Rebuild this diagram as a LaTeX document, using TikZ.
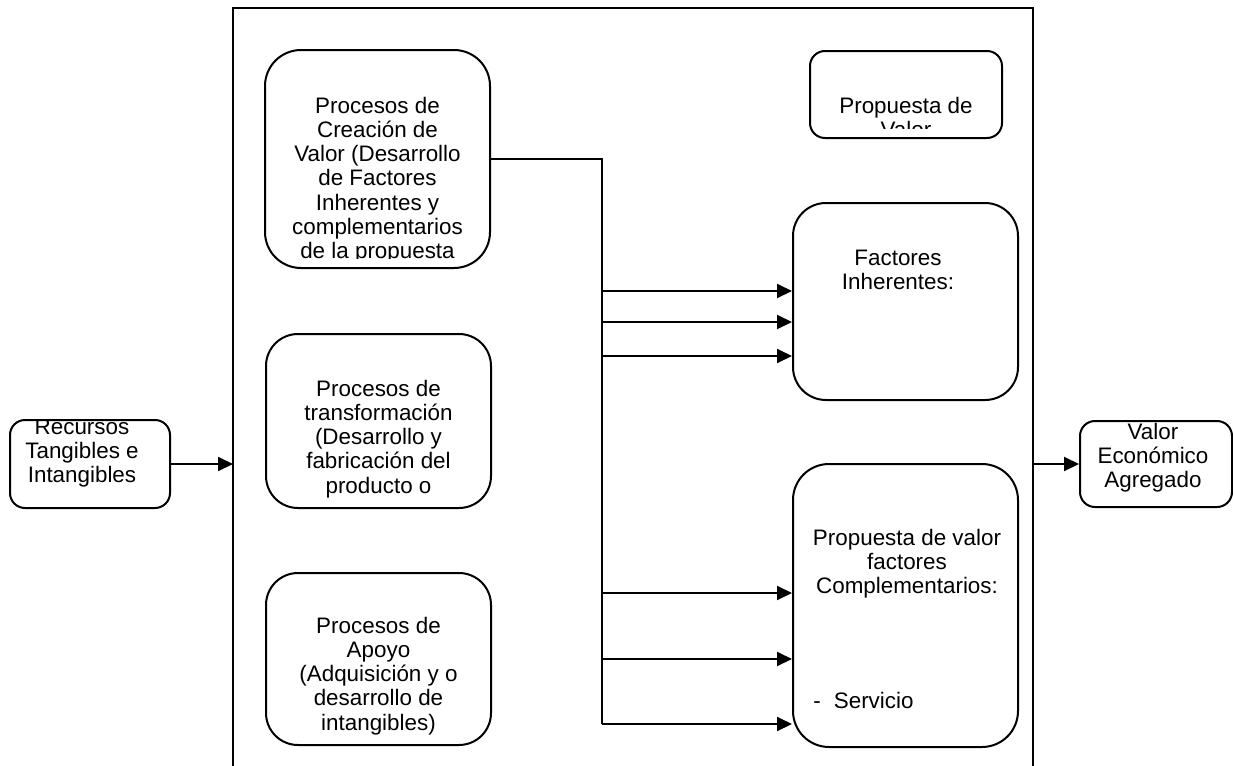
\documentclass[tikz,border=0pt]{standalone}
\usepackage{fontspec}
\setmainfont{Liberation Sans}
\usetikzlibrary{arrows.meta}

\begin{document}
\begin{tikzpicture}[x=0.5pt,y=-0.5pt,
  caja/.style={draw,line width=1pt,inner sep=0pt},
  texto/.style={align=center,inner sep=0pt,anchor=base,font=\fontsize{11.2}{12.15}\selectfont},
  flecha/.style={line width=1pt,-{Triangle[length=7.5pt,width=7pt]}}]
  \useasboundingbox (0,0) rectangle (1233,766);

  % marco de la empresa
  \coordinate (mSO) at (233,770);
  \coordinate (mNO) at (233,8);
  \coordinate (mNE) at (1033,8);
  \coordinate (mSE) at (1033,770);
  \draw[line width=1pt] (mSO) -- (mNO) -- (mNE) -- (mSE);

  % cajas
  \node[caja,rounded corners=7.5pt,minimum width=80pt,minimum height=44pt] (recursos) at (90,464) {};
  \node[caja,rounded corners=18pt,minimum width=112.5pt,minimum height=109pt] (crea) at (377.5,159) {};
  \node[caja,rounded corners=16pt,minimum width=112.5pt,minimum height=87pt] (transf) at (378.5,421) {};
  \node[caja,rounded corners=16pt,minimum width=112.5pt,minimum height=86pt] (apoyo) at (378.5,659) {};
  \node[caja,rounded corners=7.5pt,minimum width=96pt,minimum height=43.5pt] (propuesta) at (906,94.5) {};
  \node[caja,rounded corners=16.5pt,minimum width=112.5pt,minimum height=98.5pt] (fact) at (905.5,301.5) {};
  \node[caja,rounded corners=18pt,minimum width=112.5pt,minimum height=141.5pt] (compl) at (905.5,605.5) {};
  \node[caja,rounded corners=7.5pt,minimum width=76pt,minimum height=43pt] (valor) at (1156,464) {};

  % textos (recortados como en el original; base = ultima linea)
  \begin{scope}
    \clip (10,421) rectangle (170,508);
    \node[texto] (tRecursos) at (82,482.6) {Recursos\\Tangibles e\\Intangibles};
  \end{scope}
  \begin{scope}
    \clip (265,50) rectangle (490,258);
    \node[texto] (tCrea) at (377.5,258.8) {Procesos de\\Creación de\\Valor (Desarrollo\\de Factores\\Inherentes y\\complementarios\\de la propuesta};
  \end{scope}
  \begin{scope}
    \clip (266,334) rectangle (491,498);
    \node[texto] (tTransf) at (378.5,493.2) {Procesos de\\transformación\\(Desarrollo y\\fabricación del\\producto o};
  \end{scope}
  \node[texto] (tApoyo) at (378.5,730.2) {Procesos de\\Apoyo\\(Adquisición y o\\desarrollo de\\intangibles)};
  \begin{scope}
    \clip (810,51) rectangle (1002,128);
    \node[texto] (tPropuesta) at (906,137.3) {Propuesta de\\Valor};
  \end{scope}
  \node[texto] (tFact) at (898,289.3) {Factores\\Inherentes:};
  \node[texto] (tCompl) at (907,593.6) {Propuesta de valor\\factores\\Complementarios:};
  \node[texto,anchor=base west] (tServicio) at (813,708) {-\hspace{6.5pt}Servicio};
  \node[texto] (tValor) at (1153,487.6) {Valor\\Económico\\Agregado};

  % entradas y salidas
  \draw[flecha] (recursos.east) -- (recursos.east -| mNO);
  \draw[flecha] (valor.west -| mNE) -- (valor.west);

  % tronco de conexiones
  \coordinate (tronco) at (602,159);
  \coordinate (troncoFin) at (602,724);
  \draw[line width=1pt] (crea.east) -- (tronco) -- (troncoFin);
  \foreach \y [count=\i] in {291,322,356} {
    \coordinate (sF\i) at (602,\y);
    \draw[flecha] (sF\i) -- (sF\i -| fact.west);
  }
  \foreach \y [count=\i] in {593,659,724} {
    \coordinate (sC\i) at (602,\y);
    \draw[flecha] (sC\i) -- (sC\i -| compl.west);
  }
\end{tikzpicture}
\end{document}
